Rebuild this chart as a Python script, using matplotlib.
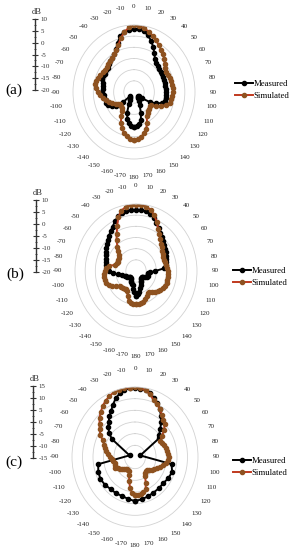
import numpy as np
import matplotlib
matplotlib.use('Agg')
import matplotlib.pyplot as plt

plt.rcParams['font.family'] = ['Liberation Serif', 'DejaVu Serif']

W, H = 294, 550

# angles (deg) for the 5-degree series, -180 .. 175
ANG5 = list(range(-180, 180, 5))

# panel (a)
a_meas = [-4.5, -4.8, -5.8, -7.5, -10.0, -14.0, -16.0, -16.5, -17.0, -17.5,
          -13.0, -9.0, -7.5, -6.0, -5.5, -5.5, -5.0, -5.0, -4.5, -4.5,
          -4.5, -4.0, -3.0, -3.0, -3.5, -3.0, -3.0, -2.5, -2.0, -1.5,
          -0.5, 1.0, 3.5, 6.0, 7.5, 8.0, 8.3, 8.2, 7.6, 6.3,
          4.5, 2.3, 0.0, -2.0, -2.8, -3.5, -3.8, -4.0, -4.0, -4.1,
          -4.2, -4.3, -4.4, -4.3, -4.2, -4.0, -4.0, -4.2, -5.5, -8.0,
          -11.0, -15.0, -17.0, -17.3, -17.0, -16.5, -15.5, -13.5, -10.0, -7.0,
          -5.5, -4.6]
a_sim = [1.4, 1.2, 0.2, -1.0, -2.8, -4.7, -7.5, -9.5, -10.5, -11.0,
         -11.3, -10.5, -9.5, -8.0, -6.8, -5.5, -4.6, -3.4, -2.2, -1.2,
         -0.3, -0.5, -1.1, -1.8, -2.3, -2.6, -2.5, -2.2, -1.9, -1.5,
         -0.6, 0.6, 2.5, 5.0, 7.3, 9.0, 9.8, 9.7, 9.0, 8.0,
         6.8, 5.5, 4.3, 3.2, 2.2, 1.0, -0.3, -1.3, -2.0, -1.8,
         -1.4, -1.2, -1.0, -0.8, -0.8, -1.0, -1.3, -1.7, -3.0, -5.2,
         -7.5, -10.0, -10.0, -9.5, -9.0, -8.3, -7.6, -4.7, -2.5, -0.8,
         0.3, 1.2]

# panel (b)
b_meas = [-9.0, -10.5, -12.0, -13.5, -14.0, -14.5, -15.0, -15.5, -16.0, -16.0,
          -16.0, -15.5, -15.0, -14.5, -14.0, -13.0, -11.0, -8.8, -6.5, -5.7,
          -5.1, -4.6, -4.1, -3.5, -2.8, -2.1, -1.3, -0.3, 0.6, 1.8,
          3.0, 4.5, 6.0, 7.0, 7.3, 7.5, 7.5, 7.5, 7.2, 6.5,
          5.3, 3.8, 2.2, 0.8, -0.4, -1.3, -2.0, -2.6, -3.2, -3.8,
          -4.2, -4.5, -5.0, -6.0, -10.5, -13.0, -14.0, -14.0, -13.6, -14.0,
          -15.0, -15.5, -16.0, -16.0, -16.0, -15.5, -15.0, -14.5, -13.5, -12.0,
          -10.5, -9.5]
b_sim = [-5.2, -5.3, -5.5, -6.2, -8.0, -10.0, -10.5, -10.3, -10.0, -9.8,
         -9.7, -8.0, -6.3, -5.3, -4.5, -4.2, -4.0, -4.2, -4.6, -5.3,
         -6.4, -9.5, -10.0, -10.2, -10.0, -9.8, -8.8, -7.5, -5.8, -3.3,
         -1.0, 2.0, 5.5, 8.0, 9.1, 9.5, 9.7, 9.6, 9.3, 8.3,
         6.5, 4.2, 1.8, 0.0, -1.5, -2.6, -3.6, -4.3, -4.8, -5.1,
         -5.2, -5.0, -4.8, -4.6, -4.4, -4.3, -4.2, -4.0, -3.9, -4.1,
         -4.5, -5.3, -6.0, -6.6, -7.5, -8.6, -8.5, -7.6, -6.6, -5.8,
         -5.3, -5.2]

# panel (c)
c_meas_ang = [-180, -170, -160, -150, -140, -130, -120, -110, -100, -75,
              -55, -50, -45, -40, -35, -30, -25, -20, -15, -10, -5,
              0, 5, 10, 15, 20, 25, 30, 35, 40, 45, 50, 55,
              75, 100, 110, 120, 130, 140, 150, 160, 170]
c_meas = [3.9, 3.3, 2.8, 3.0, 3.0, 3.6, 4.0, 3.6, 2.8, -12.3,
          -1.5, 1.0, 3.0, 4.6, 6.2, 7.8, 9.8, 11.8, 13.2, 14.2, 14.6,
          14.6, 14.4, 14.0, 13.2, 11.8, 10.3, 8.6, 6.6, 4.4, 2.0, 0.0, -1.0,
          -12.4, 2.7, 3.8, 3.3, 2.5, 2.6, 2.6, 3.0, 3.4]
c_sim = [1.2, 0.5, -1.5, -4.3, -6.8, -8.5, -8.7, -8.5, -8.3, -7.9,
         -7.0, -6.1, -5.5, -4.3, -4.7, -5.1, -4.5, -3.8, -3.1, -2.0,
         -1.0, 0.0, 0.6, 2.0, 4.0, 5.6, 7.0, 8.9, 10.3, 11.8,
         12.9, 13.8, 14.5, 14.8, 14.9, 14.8, 14.8, 14.6, 14.0, 12.8,
         11.0, 10.0, 8.8, 7.2, 5.8, 5.0, 3.0, 0.8, -1.0, -1.0,
         -0.3, 0.2, 0.5, 0.9, 1.1, 1.0, 0.1, -1.2, -2.5, -3.7,
         -4.5, -5.2, -6.0, -6.9, -6.9, -6.6, -5.5, -2.8, -0.2, 0.5,
         1.0, 1.3]

# the source picture is slightly stretched vertically, so the polar
# plots are drawn as ellipses (rx, ry in pixels)
panels = [
    dict(label='(a)', cx=134, cy=92, rx=61, ry=67, rmin=-20, rmax=10,
         meas=(ANG5, a_meas), sim=(ANG5, a_sim),
         bar=(35, 19, 90), lab=(14, 90), leg=(235, 90)),
    dict(label='(b)', cx=136, cy=271, rx=61, ry=67, rmin=-20, rmax=10,
         meas=(ANG5, b_meas), sim=(ANG5, b_sim),
         bar=(36, 200, 272), lab=(15, 274), leg=(233, 277)),
    dict(label='(c)', cx=135, cy=457, rx=63, ry=70, rmin=-15, rmax=15,
         meas=(c_meas_ang, c_meas), sim=(ANG5, c_sim),
         bar=(33, 386, 458), lab=(14, 462), leg=(233, 467)),
]

MEAS_COL = '#000000'
SIM_COL = '#c0391e'
SIM_MK = '#8e5220'


def closed(ang, val):
    th = np.deg2rad(np.array(list(ang) + [ang[0] + 360]))
    r = np.array(list(val) + [val[0]])
    return th, r


fig = plt.figure(figsize=(W / 100, H / 100), dpi=100)

for p in panels:
    cx, cy, rx, ry = p['cx'], p['cy'], p['rx'], p['ry']
    ax = fig.add_axes([(cx - rx) / W, (H - cy - ry) / H, 2 * rx / W, 2 * ry / H],
                      projection='polar')
    ax.set_aspect('auto')
    ax.set_theta_zero_location('N')
    ax.set_theta_direction(-1)
    ax.set_ylim(p['rmin'], p['rmax'])
    ax.set_yticks(np.arange(p['rmin'] + 5, p['rmax'], 5))
    ax.set_yticklabels([])
    degs = np.arange(0, 360, 10)
    ax.set_xticks(np.deg2rad(degs))
    ax.set_xticklabels([str(d if d <= 180 else d - 360) for d in degs])
    ax.tick_params(axis='x', labelsize=5, pad=2.5, colors='#222222')
    ax.xaxis.grid(False)
    ax.yaxis.grid(True, color='#d2d2d2', lw=0.6)
    ax.spines['polar'].set_color('#d2d2d2')
    ax.spines['polar'].set_linewidth(0.6)

    th, r = closed(*p['meas'])
    lm, = ax.plot(th, r, color=MEAS_COL, lw=1.4, marker='o', ms=3.0,
                  label='Measured')
    th, r = closed(*p['sim'])
    ls, = ax.plot(th, r, color=SIM_COL, lw=1.4, marker='o', ms=3.0,
                  mfc=SIM_MK, mec=SIM_MK, label='Simulated')

    lx, ly = p['leg']
    ax.legend(handles=[lm, ls], loc='center left',
              bbox_to_anchor=(lx / W, 1 - ly / H), bbox_transform=fig.transFigure,
              frameon=False, fontsize=6.3, handlelength=2.0, handletextpad=0.1,
              labelspacing=0.45, borderpad=0, borderaxespad=0)

    # dB scale bar
    bx, btop, bbot = p['bar']
    sax = fig.add_axes([bx / W, (H - bbot) / H, 0.001, (bbot - btop) / H])
    sax.set_ylim(p['rmin'], p['rmax'])
    for s in ['top', 'bottom', 'right']:
        sax.spines[s].set_visible(False)
    sax.spines['left'].set_linewidth(1.0)
    sax.spines['left'].set_color('#333333')
    sax.set_xticks([])
    ticks = np.arange(p['rmin'], p['rmax'] + 1, 5)
    sax.set_yticks(ticks)
    sax.set_yticklabels([str(int(t)) for t in ticks])
    sax.set_yticks(np.arange(p['rmin'], p['rmax'] + 0.1, 2.5), minor=True)
    sax.tick_params(axis='y', which='major', direction='inout', length=4,
                    width=0.8, labelsize=5, labelleft=False, labelright=True,
                    left=True, right=False, pad=2, colors='#333333')
    sax.tick_params(axis='y', which='minor', direction='inout', length=2,
                    width=0.6, left=True, right=False, colors='#333333')
    sax.patch.set_visible(False)
    fig.text((bx + 2) / W, 1 - (btop - 7) / H, 'dB', fontsize=6,
             ha='center', va='center', color='#333333')

    tx, ty = p['lab']
    fig.text(tx / W, 1 - ty / H, p['label'], fontsize=11,
             ha='center', va='center')

fig.savefig('out.png', dpi=100)
